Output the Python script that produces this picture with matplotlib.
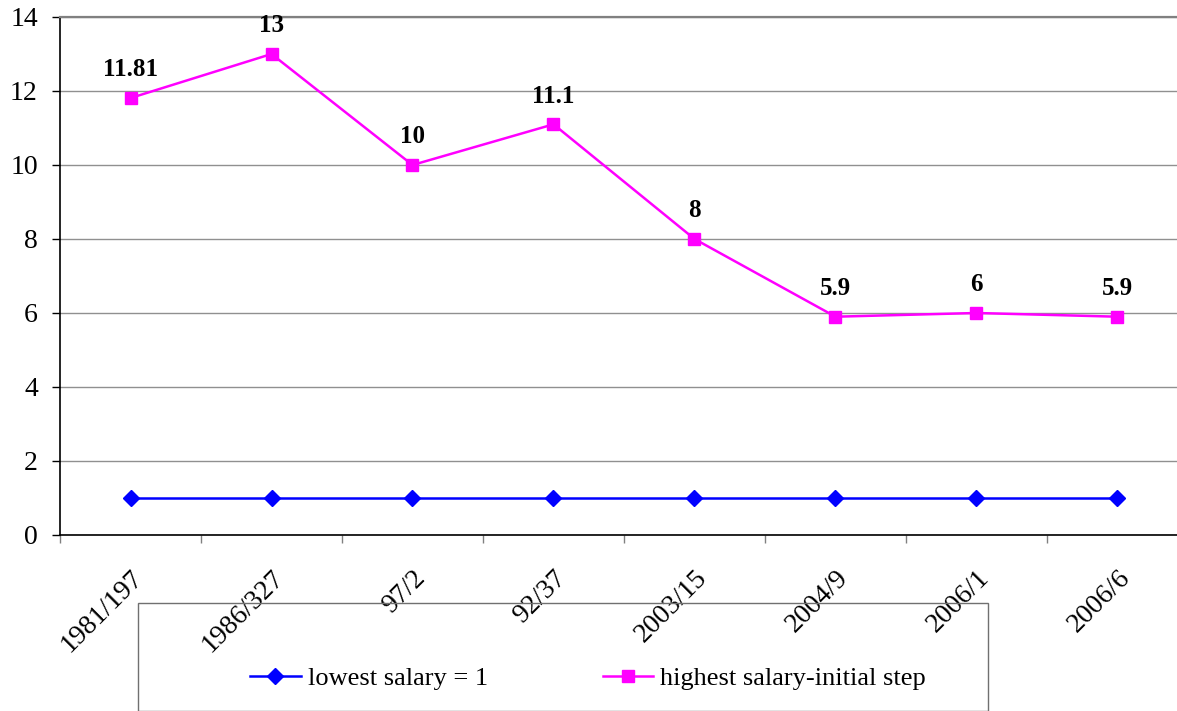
import matplotlib
matplotlib.use("Agg")
import matplotlib.pyplot as plt
from matplotlib.patches import Rectangle
from matplotlib.ticker import FixedLocator

categories = ["1981/197", "1986/327", "97/2", "92/37", "2003/15", "2004/9", "2006/1", "2006/6"]
lowest = [1, 1, 1, 1, 1, 1, 1, 1]
highest = [11.81, 13, 10, 11.1, 8, 5.9, 6, 5.9]
highest_labels = ["11.81", "13", "10", "11.1", "8", "5.9", "6", "5.9"]

plt.rcParams['font.family'] = ['Liberation Serif', 'DejaVu Serif']

W, H = 1177, 711
fig = plt.figure(figsize=(W / 100, H / 100), dpi=100)
ax = fig.add_axes([60 / W, (H - 535) / H, 1128 / W, 518 / H])

x = list(range(len(categories)))
ax.plot(x, lowest, color='#0000FF', lw=1.8, marker='D', ms=8, label='lowest salary = 1', zorder=3)
ax.plot(x, highest, color='#FF00FF', lw=1.8, marker='s', ms=9, label='highest salary-initial step', zorder=3)

for xi, v, t in zip(x, highest, highest_labels):
    ax.annotate(t, (xi, v), xytext=(0, 12), textcoords='offset points', ha='center', va='bottom',
                fontsize=18, fontweight='bold')

ax.set_xlim(-0.5, len(categories) - 0.5)
ax.set_ylim(0, 14)
ax.set_yticks(range(0, 15, 2))
ax.tick_params(axis='y', labelsize=20, length=6, width=1, pad=10, direction='out')
ax.yaxis.grid(True, color='#909090', lw=1)
ax.set_axisbelow(True)

ax.set_xticks(x)
ax.set_xticklabels(categories, rotation=45, ha='right', rotation_mode='anchor', fontsize=20)
ax.tick_params(axis='x', which='major', length=0, pad=22)
ax.xaxis.set_minor_locator(FixedLocator([i + 0.5 for i in range(-1, len(categories))]))
ax.tick_params(axis='x', which='minor', length=6, width=1, color='#808080')

ax.spines['right'].set_visible(False)
ax.spines['top'].set_color('#808080')
ax.spines['top'].set_linewidth(1.6)
ax.spines['left'].set_linewidth(1.2)
ax.spines['bottom'].set_linewidth(1.2)

# legend box
rect = Rectangle((138 / W, 0), (988 - 138) / W, (H - 639) / H + 0.05, transform=fig.transFigure,
                 fill=False, edgecolor='#707070', lw=1, clip_on=False)
fig.add_artist(rect)
fig.legend(loc='center', bbox_to_anchor=(588 / W, (H - 678) / H), ncol=2, frameon=False,
           fontsize=19, handlelength=1.9, columnspacing=4.35, handletextpad=0.27)

fig.savefig('out.png', dpi=100)
